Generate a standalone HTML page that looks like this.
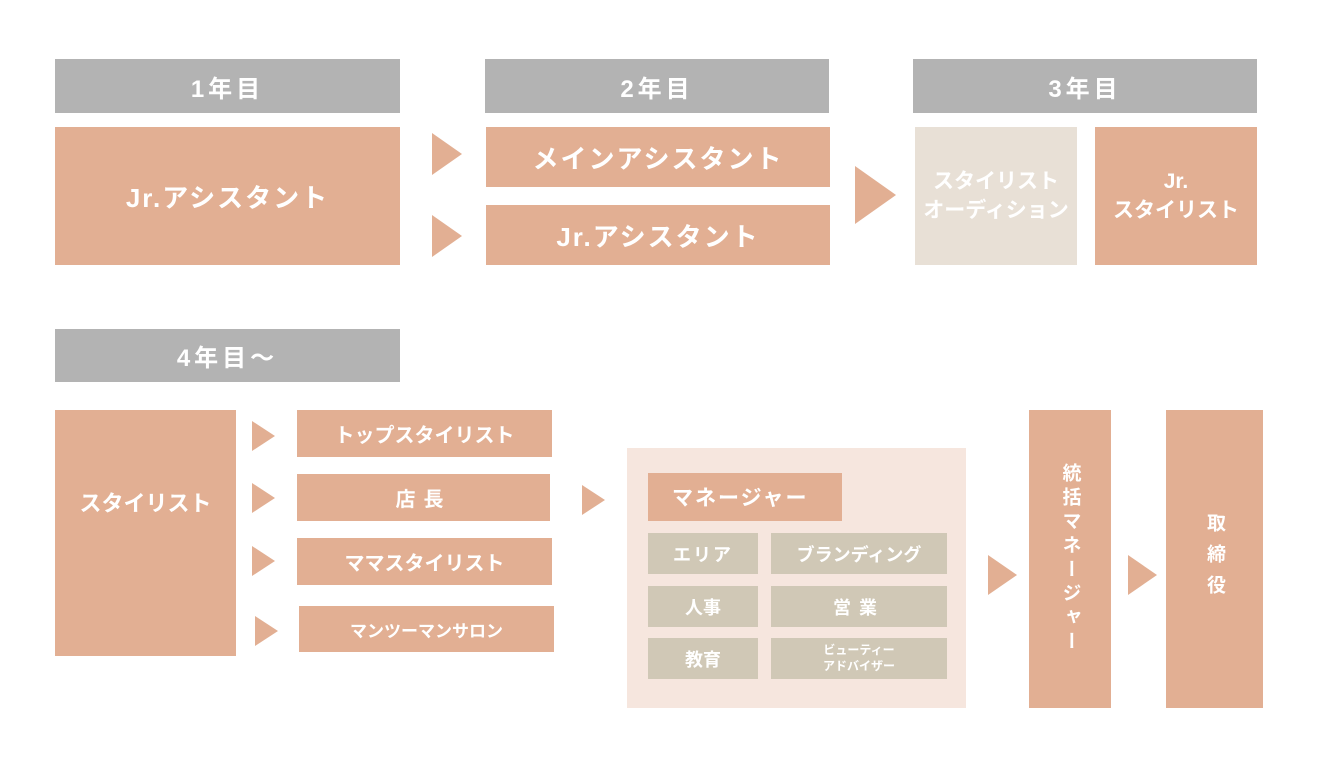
<!DOCTYPE html>
<html><head><meta charset="utf-8"><style>
body{margin:0;width:1335px;height:770px;background:#fff;position:relative;overflow:hidden;font-family:"Liberation Sans","Noto Sans CJK JP",sans-serif;font-weight:bold;color:#fff}
.b{position:absolute;display:flex;align-items:center;justify-content:center;text-align:center;box-sizing:border-box}
.o{background:#e2af93}.g{background:#b3b3b3}.t{background:#d0c8b6}.be{background:#e8e0d6}
.a{position:absolute;width:0;height:0;border-style:solid;border-color:transparent transparent transparent #e2af93}
</style></head><body>
<div class="b g" style="left:55px;top:59px;width:345px;height:54px;font-size:24px;letter-spacing:4px">1年目</div>
<div class="b g" style="left:485px;top:59px;width:344px;height:54px;font-size:24px;letter-spacing:4px">2年目</div>
<div class="b g" style="left:913px;top:59px;width:344px;height:54px;font-size:24px;letter-spacing:4px">3年目</div>
<div class="b o" style="left:55px;top:127px;width:345px;height:138px;font-size:26px;letter-spacing:2px">Jr.アシスタント</div>
<div class="a" style="left:432px;top:133px;border-width:21px 0 21px 30px"></div>
<div class="a" style="left:432px;top:215px;border-width:21px 0 21px 30px"></div>
<div class="b o" style="left:486px;top:127px;width:344px;height:60px;font-size:26px;letter-spacing:2px">メインアシスタント</div>
<div class="b o" style="left:486px;top:205px;width:344px;height:60px;font-size:26px;letter-spacing:2px">Jr.アシスタント</div>
<div class="a" style="left:855px;top:166px;border-width:29px 0 29px 41px"></div>
<div class="b be" style="left:915px;top:127px;width:162px;height:138px;font-size:21px;line-height:1.4">スタイリスト<br>オーディション</div>
<div class="b o" style="left:1095px;top:127px;width:162px;height:138px;font-size:21px;line-height:1.4">Jr.<br>スタイリスト</div>

<div class="b g" style="left:55px;top:329px;width:345px;height:53px;font-size:24px;letter-spacing:4px">4年目～</div>
<div class="b o" style="left:55px;top:410px;width:181px;height:246px;padding-bottom:62px;font-size:22px">スタイリスト</div>
<div class="a" style="left:252px;top:421px;border-width:15px 0 15px 23px"></div>
<div class="a" style="left:252px;top:483px;border-width:15px 0 15px 23px"></div>
<div class="a" style="left:252px;top:546px;border-width:15px 0 15px 23px"></div>
<div class="a" style="left:255px;top:616px;border-width:15px 0 15px 23px"></div>
<div class="b o" style="left:297px;top:410px;width:255px;height:47px;font-size:20px">トップスタイリスト</div>
<div class="b o" style="left:297px;top:474px;width:253px;height:47px;font-size:20px;letter-spacing:8px">店長</div>
<div class="b o" style="left:297px;top:538px;width:255px;height:47px;font-size:20px">ママスタイリスト</div>
<div class="b o" style="left:299px;top:606px;width:255px;height:46px;font-size:17px">マンツーマンサロン</div>
<div class="a" style="left:582px;top:485px;border-width:15px 0 15px 23px"></div>
<div class="b" style="left:627px;top:448px;width:339px;height:260px;background:#f6e6de"></div>
<div class="b o" style="left:648px;top:473px;width:194px;height:48px;font-size:21px;justify-content:flex-start;padding-left:24px;letter-spacing:2px">マネージャー</div>
<div class="b t" style="left:648px;top:533px;width:110px;height:41px;font-size:18px;letter-spacing:2px">エリア</div>
<div class="b t" style="left:771px;top:533px;width:176px;height:41px;font-size:18px">ブランディング</div>
<div class="b t" style="left:648px;top:586px;width:110px;height:41px;font-size:18px">人事</div>
<div class="b t" style="left:771px;top:586px;width:176px;height:41px;font-size:18px;letter-spacing:8px">営業</div>
<div class="b t" style="left:648px;top:638px;width:110px;height:41px;font-size:18px">教育</div>
<div class="b t" style="left:771px;top:638px;width:176px;height:41px;font-size:12px;line-height:1.3">ビューティー<br>アドバイザー</div>
<div class="a" style="left:988px;top:555px;border-width:20px 0 20px 29px"></div>
<div class="b o" style="left:1029px;top:410px;width:82px;height:298px;font-size:19px"><div style="writing-mode:vertical-rl;line-height:1;letter-spacing:5px">統括マネージャー</div></div>
<div class="a" style="left:1128px;top:555px;border-width:20px 0 20px 29px"></div>
<div class="b o" style="left:1166px;top:410px;width:97px;height:298px;font-size:19px"><div style="writing-mode:vertical-rl;line-height:1;letter-spacing:12px">取締役</div></div>
</body></html>
